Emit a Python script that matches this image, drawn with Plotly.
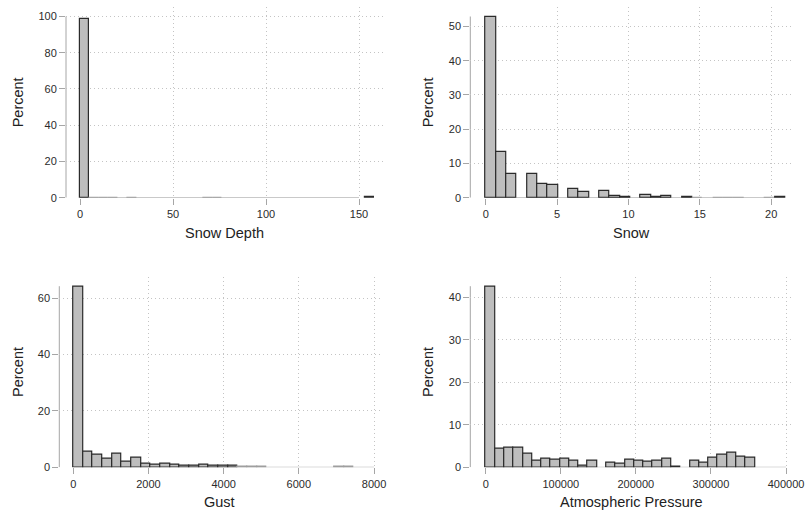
import plotly.graph_objects as go

# ---------------- data (percent per histogram bin) ----------------
snow_depth_bin_width = 5.1
snow_depth_pct = [98.6, 0.05, 0.05, 0.05, None, 0.05, None, None, None, None,
                  None, None, None, 0.05, 0.05, None, None, None, None, None,
                  None, None, None, None, None, None, None, None, None, None,
                  0.6]
snow_depth_xticks = [0, 50, 100, 150]
snow_depth_yticks = [0, 20, 40, 60, 80, 100]

snow_bin_width = 0.7241
snow_pct = [52.9, 13.4, 7.0, None, 6.8, 4.1, 3.7, None, 2.5, 1.66,
            None, 1.85, 0.5, 0.1, None, 0.9, 0.3, 0.4, None, 0.3,
            0.05, None, 0.05, 0.05, 0.05, None, None, 0.05, 0.3]
snow_xticks = [0, 5, 10, 15, 20]
snow_yticks = [0, 10, 20, 30, 40, 50]

gust_bin_width = 257.2
gust_pct = [64.3, 5.7, 4.6, 3.2, 5.0, 1.9, 3.5, 1.3, 0.95, 1.3,
            0.95, 0.6, 0.5, 1.0, 0.6, 0.6, 0.4, 0.05, 0.05, 0.05,
            None, None, None, None, None, None, None, 0.05, 0.05]
gust_xticks = [0, 2000, 4000, 6000, 8000]
gust_yticks = [0, 20, 40, 60]

pressure_bin_width = 12360
pressure_pct = [42.6, 4.4, 4.7, 4.5, 3.15, 1.65, 2.1, 1.9, 1.95, 1.65,
                0.45, 1.65, None, 1.1, 0.85, 1.8, 1.6, 1.4, 1.6, 2.05,
                0.15, None, 1.65, 1.1, 2.3, 2.85, 3.55, 2.5, 2.2]
pressure_xticks = [0, 100000, 200000, 300000, 400000]
pressure_yticks = [0, 10, 20, 30, 40]

x_titles = ["Snow Depth", "Snow", "Gust", "Atmospheric Pressure"]
y_title = "Percent"

# ---------------- layout geometry (pixels of the 808x512 canvas) ----------------
W, H = 808, 512
FONT = "Liberation Sans, Arial, sans-serif"
FILL = "#bebebe"
EDGE = "#2b2b2b"
FAINT_EDGE = "#9e9e9e"
AXIS = "#a6a6a6"
GRID = "#c4c4c4"
DOT = "1px,3px"

panels = [
    dict(pct=snow_depth_pct, bw=snow_depth_bin_width, xt=snow_depth_xticks, yt=snow_depth_yticks,
         px=(66, 383), py=(7, 197.7), xr=(-7.53, 162.9)),
    dict(pct=snow_pct, bw=snow_bin_width, xt=snow_xticks, yt=snow_yticks,
         px=(470.3, 792.7), py=(7, 197.7), xr=(-1.08, 21.51)),
    dict(pct=gust_pct, bw=gust_bin_width, xt=gust_xticks, yt=gust_yticks,
         px=(59.3, 380), py=(276.7, 467.3), xr=(-372, 8159)),
    dict(pct=pressure_pct, bw=pressure_bin_width, xt=pressure_xticks, yt=pressure_yticks,
         px=(470.3, 792.7), py=(276.7, 467.3), xr=(-20512, 408900)),
]

fig = go.Figure()
shapes = []
annotations = []
layout = dict(
    width=W, height=H, margin=dict(l=0, r=0, t=0, b=0, autoexpand=False),
    paper_bgcolor="white", plot_bgcolor="white", showlegend=False,
    font=dict(family=FONT, color="#222222"),
)

for i, p in enumerate(panels):
    n = "" if i == 0 else str(i + 1)
    xa, ya = "x" + n, "y" + n
    pct = p["pct"]
    centers = [p["bw"] * (k + 0.5) for k in range(len(pct))]
    edge_cols = [FAINT_EDGE if (v is not None and v < 0.1) else EDGE for v in pct]
    fig.add_trace(go.Bar(
        x=centers, y=pct, width=p["bw"], xaxis=xa, yaxis=ya,
        marker=dict(color=FILL, line=dict(color=edge_cols, width=1.2)),
        hoverinfo="skip",
    ))
    data_max = max(v for v in pct if v is not None)
    ytop_val = max(data_max, p["yt"][-1])
    region_h = p["py"][1] - p["py"][0]
    ymax = ytop_val * region_h / (region_h - 9.5)

    layout["xaxis" + n] = dict(
        domain=[p["px"][0] / W, p["px"][1] / W], anchor=ya, range=list(p["xr"]),
        tickmode="array", tickvals=p["xt"], ticktext=[str(t) for t in p["xt"]],
        ticks="outside", ticklen=6, tickwidth=1, tickcolor=AXIS,
        showgrid=False, zeroline=False, showline=False, automargin=False,
        minor=dict(tickmode="array", tickvals=p["xt"][1:], showgrid=True,
                   gridcolor=GRID, griddash=DOT, gridwidth=1, ticks=""),
        tickfont=dict(size=11, color="#2b2b2b", family=FONT),
        fixedrange=True,
    )
    layout["yaxis" + n] = dict(
        domain=[1 - p["py"][1] / H, 1 - p["py"][0] / H], anchor=xa, range=[0, ymax],
        tickmode="array", tickvals=p["yt"], ticktext=[str(t) for t in p["yt"]],
        ticks="outside", ticklen=6, tickwidth=1, tickcolor=AXIS,
        showgrid=True, gridcolor=GRID, griddash=DOT, gridwidth=1,
        zeroline=False, showline=False, automargin=False,
        tickfont=dict(size=11, color="#2b2b2b", family=FONT),
        fixedrange=True,
    )
    # axis lines spanning the scale range
    shapes.append(dict(type="line", xref=xa, yref=ya, x0=0, x1=p["xt"][-1], y0=0, y1=0,
                       line=dict(color=AXIS, width=1), layer="below"))
    shapes.append(dict(type="line", xref=xa + " domain", yref=ya, x0=0, x1=0, y0=0, y1=ytop_val,
                       line=dict(color=AXIS, width=1), layer="below"))
    # axis titles
    cx = (p["px"][0] + p["px"][1]) / 2
    annotations.append(dict(text=x_titles[i], xref="paper", yref="paper",
                            x=cx / W, y=1 - (p["py"][1] + 35) / H,
                            xanchor="center", yanchor="middle", showarrow=False,
                            font=dict(size=14.5, color="#222222", family=FONT)))
    tx = 18 if i % 2 == 0 else 428
    cy = (p["py"][0] + p["py"][1]) / 2
    annotations.append(dict(text=y_title, xref="paper", yref="paper",
                            x=tx / W, y=1 - cy / H, textangle=-90,
                            xanchor="center", yanchor="middle", showarrow=False,
                            font=dict(size=14.5, color="#222222", family=FONT)))

layout["shapes"] = shapes
layout["annotations"] = annotations
layout["bargap"] = 0
fig.update_layout(**layout)
fig.write_html("out.html")
